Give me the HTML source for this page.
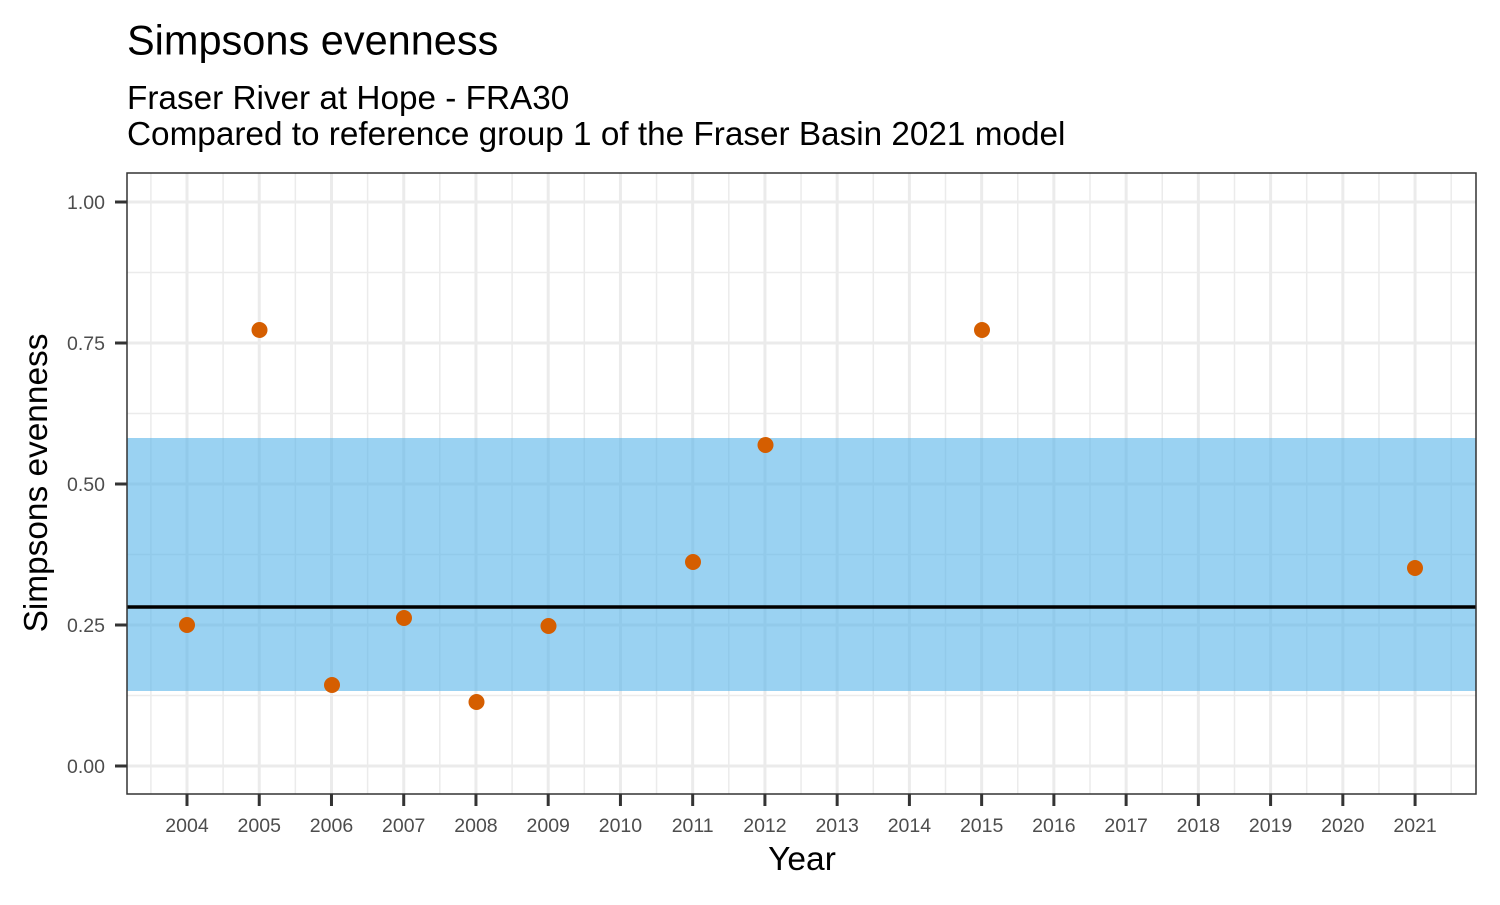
<!DOCTYPE html>
<html><head><style>body{margin:0;background:#fff}</style></head><body>
<svg width="1500" height="900" xmlns="http://www.w3.org/2000/svg" font-family="Liberation Sans, Arial, sans-serif">
<rect width="1500" height="900" fill="#fff"/>
<text x="127" y="54.5" font-size="41.5" fill="#000">Simpsons evenness</text>
<text x="127" y="109" font-size="33.3" fill="#000">Fraser River at Hope - FRA30</text>
<text x="127" y="145" font-size="33.3" fill="#000">Compared to reference group 1 of the Fraser Basin 2021 model</text>
<g stroke="#ebebeb" stroke-width="1.5">
<line x1="127" x2="1476" y1="695.5" y2="695.5"/><line x1="127" x2="1476" y1="554.5" y2="554.5"/><line x1="127" x2="1476" y1="413.5" y2="413.5"/><line x1="127" x2="1476" y1="272.5" y2="272.5"/>
</g>
<g id="minor" stroke="#ebebeb" stroke-width="1.5"></g>
<g id="major" stroke="#ebebeb" stroke-width="3">
<line x1="127" x2="1476" y1="766" y2="766"/><line x1="127" x2="1476" y1="625" y2="625"/><line x1="127" x2="1476" y1="484" y2="484"/><line x1="127" x2="1476" y1="343" y2="343"/><line x1="127" x2="1476" y1="202" y2="202"/>
</g>
<rect x="127" y="438" width="1349" height="253" fill="#56b4e9" opacity="0.6"/>
<line x1="127" x2="1476" y1="607" y2="607" stroke="#000" stroke-width="3.5"/>
<g fill="#d55e00">
<circle cx="187" cy="625" r="8"/><circle cx="259.5" cy="330" r="8"/><circle cx="332" cy="685" r="8"/><circle cx="404" cy="618" r="8"/><circle cx="476.5" cy="702" r="8"/><circle cx="548.5" cy="626" r="8"/><circle cx="693" cy="562" r="8"/><circle cx="765.5" cy="445" r="8"/><circle cx="982" cy="330" r="8"/><circle cx="1415" cy="568" r="8"/>
</g>
<rect x="127" y="173" width="1349" height="621" fill="none" stroke="#333" stroke-width="1.5"/>
<g stroke="#333" stroke-width="3">
<line x1="115" x2="127" y1="766" y2="766"/><line x1="115" x2="127" y1="625" y2="625"/><line x1="115" x2="127" y1="484" y2="484"/><line x1="115" x2="127" y1="343" y2="343"/><line x1="115" x2="127" y1="202" y2="202"/>
</g>
<g font-size="19.5" fill="#4d4d4d" text-anchor="end">
<text x="105" y="773">0.00</text><text x="105" y="632">0.25</text><text x="105" y="491">0.50</text><text x="105" y="350">0.75</text><text x="105" y="209">1.00</text>
</g>
<g id="xt" font-size="19.5" fill="#4d4d4d" text-anchor="middle"></g>
<g id="xtk" stroke="#333" stroke-width="3"></g>
<text x="802" y="870" font-size="33.5" text-anchor="middle" fill="#000">Year</text>
<text transform="translate(47,483) rotate(-90)" font-size="33.4" text-anchor="middle" fill="#000">Simpsons evenness</text>
</svg>
<script>
var ns="http://www.w3.org/2000/svg",s=72.24;
var mi=document.getElementById("minor"),ma=document.getElementById("major"),xt=document.getElementById("xt"),tk=document.getElementById("xtk");
function L(g,x1,x2,y1,y2){var l=document.createElementNS(ns,"line");l.setAttribute("x1",x1);l.setAttribute("x2",x2);l.setAttribute("y1",y1);l.setAttribute("y2",y2);g.appendChild(l);}
for(var y=2003;y<=2022;y++){var x=187+(y-2004)*s;
 var xm=x+s/2; if(xm>127&&xm<1476)L(mi,xm,xm,173,794);
 if(y>=2004&&y<=2021){L(ma,x,x,173,794);L(tk,x,x,794,806);
 var t=document.createElementNS(ns,"text");t.setAttribute("x",x);t.setAttribute("y",832);t.textContent=y;xt.appendChild(t);}}
</script>
</body></html>
